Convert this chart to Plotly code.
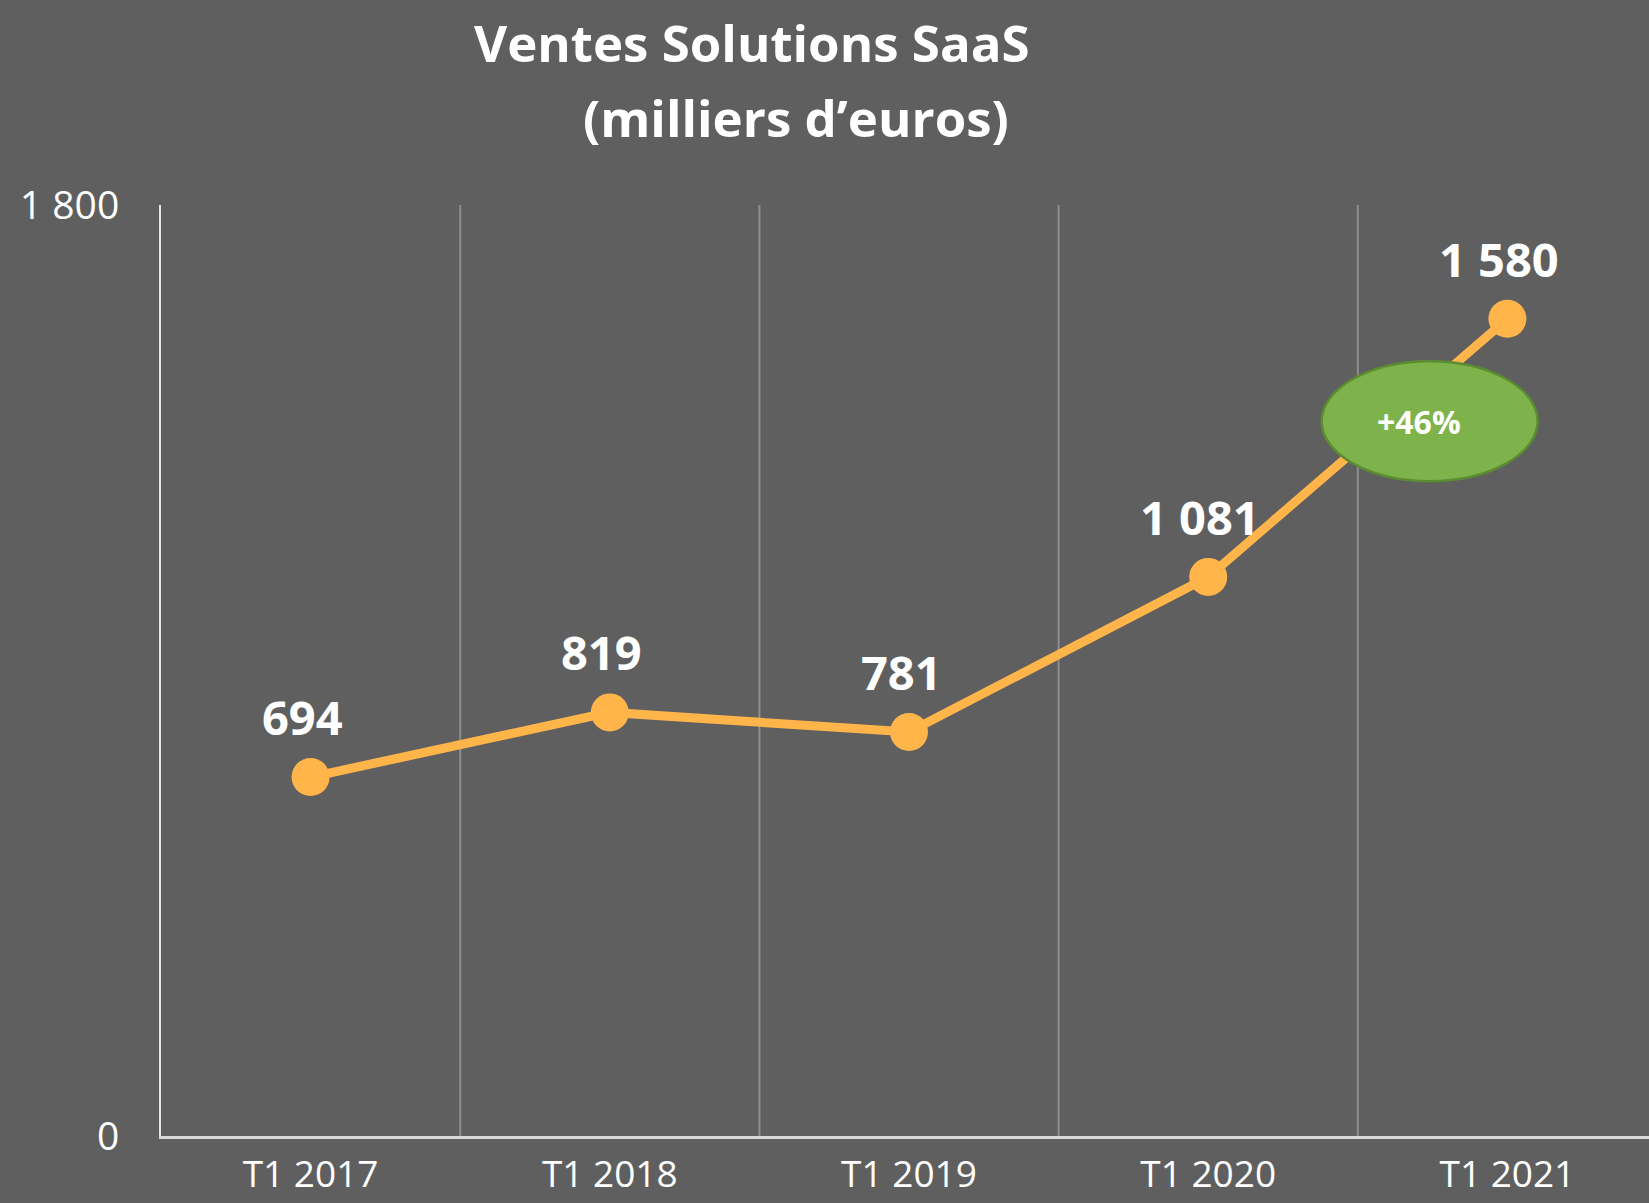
import plotly.graph_objects as go

categories = ["T1 2017", "T1 2018", "T1 2019", "T1 2020", "T1 2021"]
values = [694, 819, 781, 1081, 1580]
value_labels = ["694", "819", "781", "1 081", "1 580"]
y_tick_vals = [0, 1800]
y_tick_text = ["0", "1 800"]
growth_label = "+46%"
growth_pos = (3.74, 1382)

BG = "#5f5f5f"
ORANGE = "#ffb54a"
FONT = "Open Sans"

fig = go.Figure()
fig.add_trace(go.Scatter(
    x=list(range(len(categories))), y=values, mode="lines+markers",
    line=dict(color=ORANGE, width=9),
    marker=dict(size=38, color=ORANGE),
    hoverinfo="skip", showlegend=False,
))

for i, (v, t) in enumerate(zip(values, value_labels)):
    fig.add_annotation(x=i, y=v, text=f"<b>{t}</b>", showarrow=False,
                       xref="x", yref="y", xshift=-8, yshift=60,
                       font=dict(family=FONT, size=47, color="white"))

# growth ellipse
fig.add_shape(type="circle", xref="x", yref="y",
              xsizemode="pixel", ysizemode="pixel",
              xanchor=growth_pos[0], yanchor=growth_pos[1],
              x0=-108, x1=108, y0=-60, y1=60,
              fillcolor="#7db34a", line=dict(color="#5b8c31", width=2.5), layer="above")
fig.add_annotation(x=growth_pos[0], y=growth_pos[1], text=f"<b>{growth_label}</b>",
                   showarrow=False, xref="x", yref="y", xshift=-11,
                   font=dict(family=FONT, size=32, color="white"))

# title
fig.add_annotation(x=0.397, y=1.175, xref="paper", yref="paper", showarrow=False,
                   text="<b>Ventes Solutions SaaS</b>", yanchor="middle",
                   font=dict(family=FONT, size=51, color="white"))
fig.add_annotation(x=0.4268, y=1.094, xref="paper", yref="paper", showarrow=False,
                   text="<b>(milliers d’euros)</b>", yanchor="middle",
                   font=dict(family=FONT, size=51, color="white"))

# vertical category separators
for i in range(1, len(categories)):
    fig.add_shape(type="line", xref="x", yref="paper", x0=i - 0.5, x1=i - 0.5,
                  y0=0, y1=1, line=dict(color="#8e8e8e", width=2), layer="below")

fig.update_layout(
    width=1649, height=1203,
    paper_bgcolor=BG, plot_bgcolor=BG,
    margin=dict(l=161, r=0, t=205, b=67),
    xaxis=dict(range=[-0.5, 4.5 - 8 / 299.5], tickvals=list(range(len(categories))),
               ticktext=categories, showgrid=False, zeroline=False,
               showline=True, linecolor="#d9d9d9", linewidth=3,
               tickfont=dict(family=FONT, size=37, color="white"),
               ticks="", ticklabelstandoff=4, automargin=False, fixedrange=True),
    yaxis=dict(range=[0, 1800], tickvals=y_tick_vals, ticktext=y_tick_text,
               showgrid=False, zeroline=False, showline=True,
               linecolor="#e6e6e6", linewidth=2,
               tickfont=dict(family=FONT, size=39, color="white"),
               ticks="", ticklabelstandoff=32, automargin=False, fixedrange=True),
)

fig.write_html("out.html", config={"displayModeBar": False},
               post_script="document.body.style.margin='0';document.body.style.background='#5f5f5f';")
